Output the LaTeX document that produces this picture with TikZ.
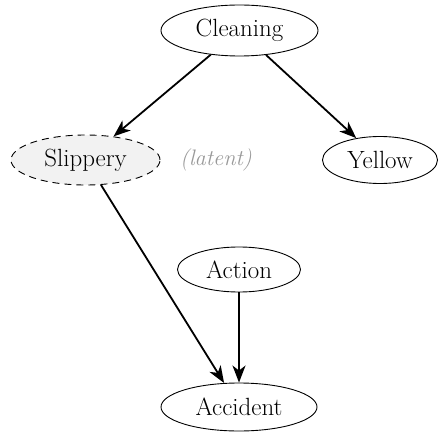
\documentclass[tikz,border=0pt]{standalone}
\usetikzlibrary{arrows.meta,shapes.geometric}
\definecolor{latentfill}{HTML}{F2F2F2}
\definecolor{latentgray}{HTML}{999999}
\tikzset{
  var/.style={ellipse,draw=black,line width=0.9bp,inner sep=0pt,
    font=\fontsize{25}{30}\selectfont},
  latentvar/.style={var,dashed,dash pattern=on 7bp off 5bp,fill=latentfill},
  edge/.style={line width=1.8bp,-{Stealth[length=17bp,width=13bp,inset=5bp]}},
  note/.style={font=\fontsize{22.5}{27}\selectfont\itshape,text=latentgray}
}
\begin{document}
\begin{tikzpicture}[x=1bp,y=-1bp]
\useasboundingbox (0,0) rectangle (439,433);
\node[var,minimum width=157bp,minimum height=51bp] (cleaning) at (239.5,30.5) {Cleaning};
\node[latentvar,minimum width=149bp,minimum height=50bp] (slippery) at (85.5,160) {Slippery};
\node[var,minimum width=115bp,minimum height=47bp] (yellow) at (380,160) {Yellow};
\node[var,minimum width=123bp,minimum height=45bp] (action) at (239,269.5) {Action};
\node[var,minimum width=156bp,minimum height=48bp] (accident) at (239,407) {Accident};
\node[note] (latent) at (216,160) {(latent)};
\draw[edge] (cleaning) -- (slippery);
\draw[edge] (cleaning) -- (yellow);
\draw[edge] (slippery) -- (accident);
\draw[edge] (action) -- (accident);
\end{tikzpicture}
\end{document}
